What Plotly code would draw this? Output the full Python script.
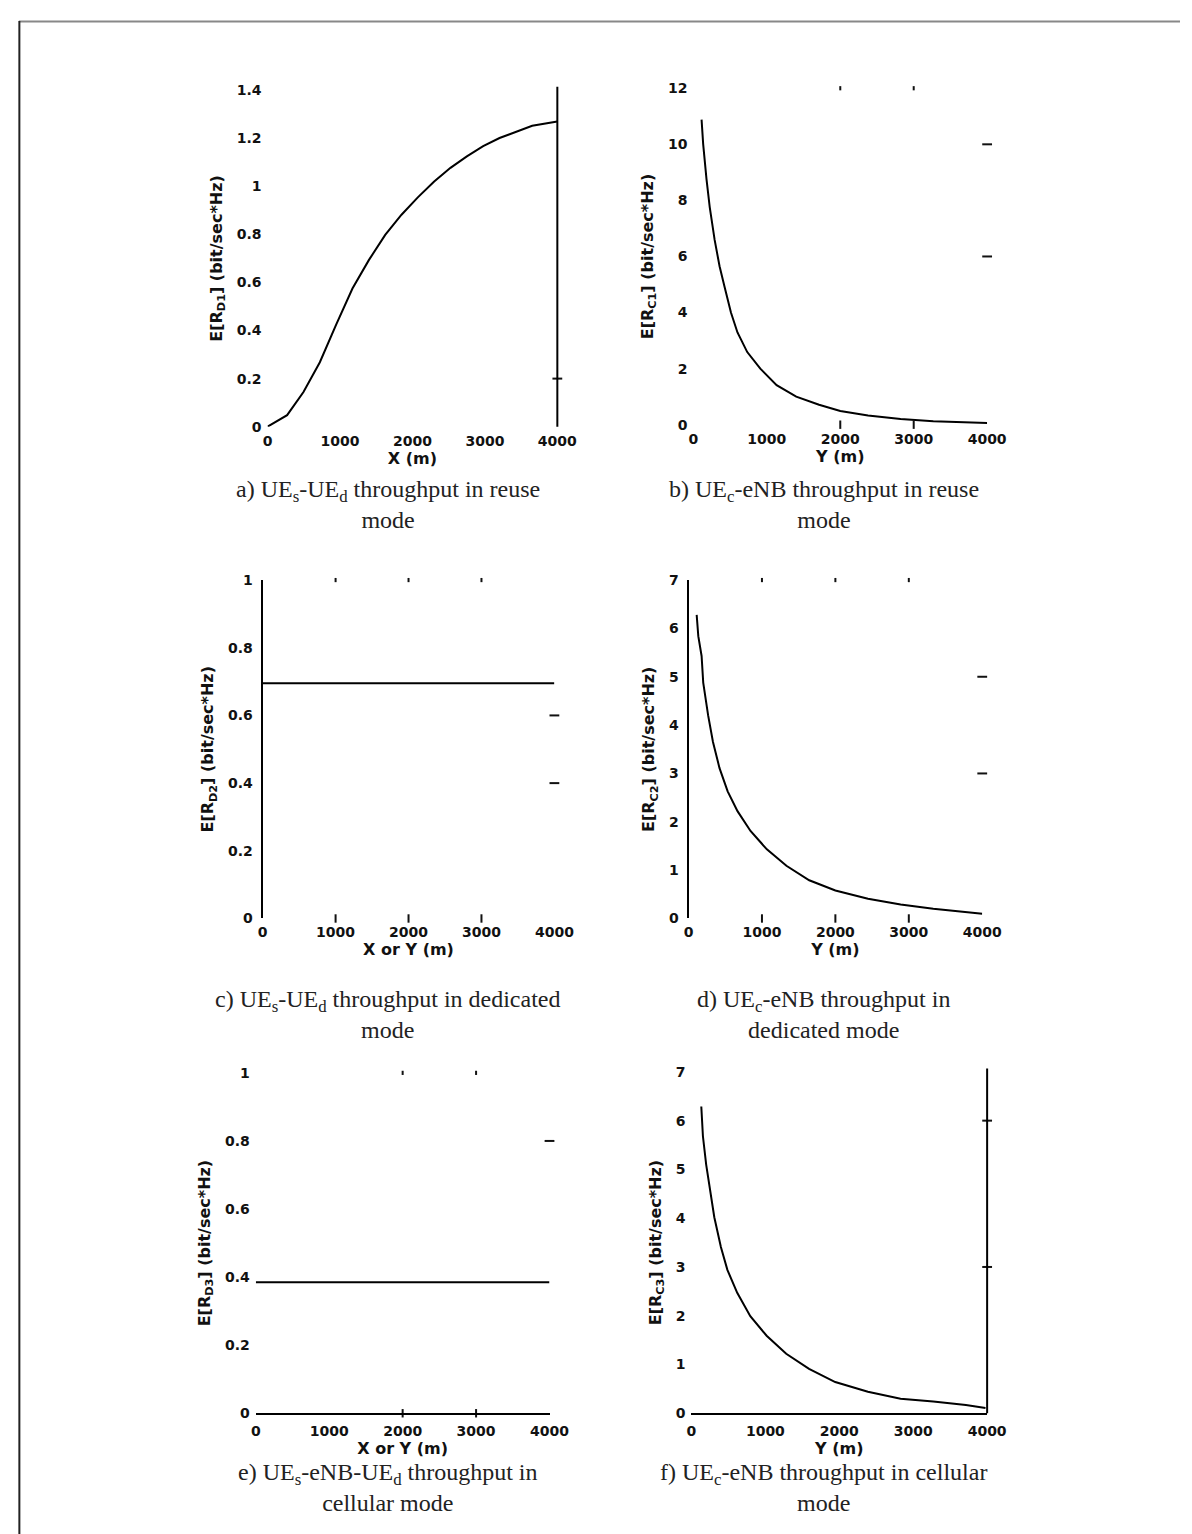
import plotly.graph_objects as go

W, H = 1192, 1534

# ---- data ----
x_ticks = [0, 1000, 2000, 3000, 4000]

a_x = [0, 270, 496, 722, 947, 1172, 1398, 1624, 1849, 2074, 2300, 2525, 2751, 2976, 3202, 3427, 3653, 4000]
a_y = [0, 0.048, 0.144, 0.268, 0.425, 0.575, 0.693, 0.798, 0.882, 0.954, 1.020, 1.077, 1.125, 1.167, 1.201, 1.228, 1.252, 1.27]

b_x = [111, 133, 178, 222, 289, 356, 422, 511, 600, 733, 911, 1133, 1400, 1711, 2000, 2378, 2822, 3267, 4000]
b_y = [10.88, 10.0, 8.76, 7.76, 6.59, 5.65, 4.94, 4.0, 3.29, 2.59, 2.0, 1.41, 1.0, 0.71, 0.49, 0.33, 0.2, 0.12, 0.06]

c_x = [0, 4000]
c_y = [0.695, 0.695]

d_x = [111, 133, 178, 200, 267, 333, 422, 533, 667, 844, 1067, 1333, 1644, 2000, 2444, 2889, 3333, 4000]
d_y = [6.28, 5.84, 5.43, 4.88, 4.2, 3.65, 3.11, 2.63, 2.22, 1.81, 1.43, 1.09, 0.79, 0.58, 0.41, 0.29, 0.2, 0.1]

e_x = [0, 4000]
e_y = [0.385, 0.385]

f_x = [133, 155, 199, 243, 309, 398, 486, 619, 796, 1017, 1282, 1591, 1945, 2387, 2829, 3271, 3713, 3978]
f_y = [6.29, 5.68, 5.1, 4.63, 4.02, 3.41, 2.94, 2.47, 1.99, 1.59, 1.22, 0.91, 0.64, 0.44, 0.3, 0.24, 0.17, 0.11]

a_yticks = [0, 0.2, 0.4, 0.6, 0.8, 1, 1.2, 1.4]
b_yticks = [0, 2, 4, 6, 8, 10, 12]
c_yticks = [0, 0.2, 0.4, 0.6, 0.8, 1]
d_yticks = [0, 1, 2, 3, 4, 5, 6, 7]

# leftover tick marks of the (faded) axis boxes
top_marks = [[], [2000, 3000], [1000, 2000, 3000], [1000, 2000, 3000], [2000, 3000], []]
bottom_marks = [[], [2000, 3000], [1000, 2000, 3000], [1000, 2000, 3000], [2000, 3000], []]
right_marks = [[0.2], [10, 6], [0.6, 0.4], [5, 3], [0.8], [6, 3]]

x_titles = ["X (m)", "Y (m)", "X or Y (m)", "Y (m)", "X or Y (m)", "Y (m)"]
y_titles = [
    "E[R<sub>D1</sub>] (bit/sec*Hz)",
    "E[R<sub>C1</sub>] (bit/sec*Hz)",
    "E[R<sub>D2</sub>] (bit/sec*Hz)",
    "E[R<sub>C2</sub>] (bit/sec*Hz)",
    "E[R<sub>D3</sub>] (bit/sec*Hz)",
    "E[R<sub>C3</sub>] (bit/sec*Hz)",
]
captions = [
    "a) UE<sub>s</sub>-UE<sub>d</sub> throughput in reuse<br>mode",
    "b) UE<sub>c</sub>-eNB throughput in reuse<br>mode",
    "c) UE<sub>s</sub>-UE<sub>d</sub> throughput in dedicated<br>mode",
    "d) UE<sub>c</sub>-eNB throughput in<br>dedicated mode",
    "e) UE<sub>s</sub>-eNB-UE<sub>d</sub> throughput in<br>cellular mode",
    "f) UE<sub>c</sub>-eNB throughput in cellular<br>mode",
]

series = [(a_x, a_y), (b_x, b_y), (c_x, c_y), (d_x, d_y), (e_x, e_y), (f_x, f_y)]
yranges = [[0, 1.4], [0, 12], [0, 1], [0, 7], [0, 1], [0, 7]]
yticks = [a_yticks, b_yticks, c_yticks, d_yticks, c_yticks, d_yticks]

# ---- layout (pixel boxes) ----
boxes = [  # x0, x1, ytop, ybottom
    (260, 556, 75, 415),
    (695, 995, 73, 413),
    (255, 553, 570, 912),
    (690, 990, 570, 912),
    (248, 548, 1068, 1412),
    (693, 995, 1067, 1412),
]
caption_x = [383, 828, 383, 828, 383, 828]
caption_y = [494, 494, 1009, 1009, 1487, 1487]
left_line = [False, False, True, True, False, False]
bottom_line = [False, False, False, False, True, True]
right_line = [True, False, False, False, False, True]

def px(x):
    return x / W

def py(y):
    return 1 - y / H

tick_font = dict(family="DejaVu Sans", size=14, color="#111", weight="bold")
title_font = dict(family="DejaVu Sans", size=16, color="#111", weight="bold")

fig = go.Figure()
layout = dict(
    width=W, height=H, margin=dict(l=0, r=0, t=0, b=0),
    paper_bgcolor="white", plot_bgcolor="white", showlegend=False,
)
shapes = []
annotations = []

def marks(xs, ys, symbol, size, n):
    if not xs:
        return
    fig.add_trace(go.Scatter(
        x=xs, y=ys, mode="markers", xaxis="x" + n, yaxis="y" + n,
        cliponaxis=False, hoverinfo="skip",
        marker=dict(symbol=symbol, size=size, color="#111",
                    line=dict(color="#111", width=2)),
    ))

for i in range(6):
    n = "" if i == 0 else str(i + 1)
    x0, x1, yt, yb = boxes[i]
    xs, ys = series[i]
    fig.add_trace(go.Scatter(
        x=xs, y=ys, mode="lines", xaxis="x" + n, yaxis="y" + n,
        line=dict(color="black", width=2), hoverinfo="skip",
    ))
    ylo, yhi = yranges[i]
    marks(top_marks[i], [yhi] * len(top_marks[i]), "line-ns", 3, n)
    marks(bottom_marks[i], [ylo] * len(bottom_marks[i]), "line-ns", 6, n)
    marks([4000] * len(right_marks[i]), right_marks[i], "line-ew", 7, n)

    layout["xaxis" + n] = dict(
        domain=[px(x0), px(x1)], anchor="y" + n, range=[0, 4000],
        tickvals=x_ticks, ticktext=[str(v) for v in x_ticks], ticks="",
        ticklabelstandoff=4,
        showgrid=False, zeroline=False, showline=bottom_line[i],
        linecolor="black", linewidth=2, tickfont=tick_font,
        title=dict(text=x_titles[i], font=title_font, standoff=3),
    )
    layout["yaxis" + n] = dict(
        domain=[py(yb), py(yt)], anchor="x" + n, range=yranges[i],
        tickvals=yticks[i], ticktext=[f"{v:g}" for v in yticks[i]], ticks="",
        ticklabelstandoff=5,
        showgrid=False, zeroline=False, showline=left_line[i],
        linecolor="black", linewidth=2, tickfont=tick_font,
        title=dict(text=y_titles[i], font=title_font, standoff=10),
    )
    if right_line[i]:
        shapes.append(dict(
            type="line", xref="x" + n + " domain", yref="y" + n + " domain",
            x0=1, x1=1, y0=0, y1=1.01, line=dict(color="black", width=2),
        ))
    annotations.append(dict(
        text=captions[i], x=px(caption_x[i]), y=py(caption_y[i]),
        xref="paper", yref="paper", xanchor="center", yanchor="middle",
        showarrow=False, align="center",
        font=dict(family="Liberation Serif", size=24, color="#222"),
    ))

# page frame
shapes.append(dict(type="line", xref="paper", yref="paper",
                   x0=px(6), x1=1, y0=py(5.5), y1=py(5.5),
                   line=dict(color="#888", width=2)))
shapes.append(dict(type="line", xref="paper", yref="paper",
                   x0=px(6.5), x1=px(6.5), y0=0, y1=py(5),
                   line=dict(color="#222", width=2)))

layout["shapes"] = shapes
layout["annotations"] = annotations
fig.update_layout(**layout)
fig.write_html("out.html")
